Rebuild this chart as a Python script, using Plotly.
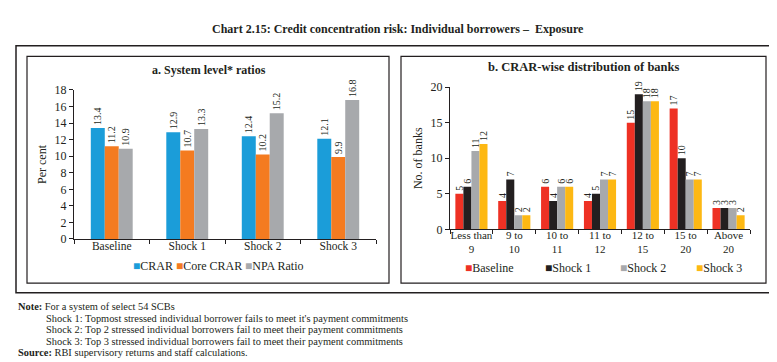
import plotly.graph_objects as go

W, H = 777, 362

# ---- Panel a data ----
categories_a = ["Baseline", "Shock 1", "Shock 2", "Shock 3"]
crar = [13.4, 12.9, 12.4, 12.1]
core_crar = [11.2, 10.7, 10.2, 9.9]
npa_ratio = [10.9, 13.3, 15.2, 16.8]
names_a = ["CRAR", "Core CRAR", "NPA Ratio"]
colors_a = ["#1B9DD9", "#F47B20", "#A7A9AC"]

# ---- Panel b data ----
categories_b = ["Less than<br>9", "9 to<br>10", "10 to<br>11", "11 to<br>12",
                "12 to<br>15", "15 to<br>20", "Above<br>20"]
baseline = [5, 4, 6, 4, 15, 17, 3]
shock1 = [6, 7, 4, 5, 19, 10, 3]
shock2 = [11, 2, 6, 7, 18, 7, 3]
shock3 = [12, 2, 6, 7, 18, 7, 2]
names_b = ["Baseline", "Shock 1", "Shock 2", "Shock 3"]
colors_b = ["#EE3124", "#231F20", "#A7A9AC", "#FDB813"]

FONT = "Liberation Serif"
TXT = "#231F20"


def px(x):
    return x / W


def py(y):
    return 1 - y / H


fig = go.Figure()

# Panel a bars (explicit width/offset so panel a has its own gap)
bw_a = 0.185
for i, (nm, vals, col) in enumerate(zip(names_a, [crar, core_crar, npa_ratio], colors_a)):
    fig.add_trace(go.Bar(
        x=categories_a, y=vals, name=nm, marker=dict(color=col, line=dict(width=0)),
        width=bw_a, offset=-1.5 * bw_a + i * bw_a,
        text=vals, texttemplate="%{y}", textposition="outside", textangle=-90,
        textfont=dict(size=10, color=TXT, family=FONT), constraintext="none",
        cliponaxis=False, xaxis="x", yaxis="y", showlegend=False))

# Panel b bars
for nm, vals, col in zip(names_b, [baseline, shock1, shock2, shock3], colors_b):
    fig.add_trace(go.Bar(
        x=categories_b, y=vals, name=nm, marker=dict(color=col, line=dict(width=0)),
        text=vals, texttemplate="%{y}", textposition="outside", textangle=-90,
        textfont=dict(size=10, color=TXT, family=FONT), constraintext="none",
        cliponaxis=False, xaxis="x2", yaxis="y2", showlegend=False))

axis_common = dict(showline=True, linecolor=TXT, linewidth=1, ticks="outside",
                   ticklen=4, tickcolor=TXT, showgrid=False, zeroline=False)
xfont = dict(family=FONT, size=11.5, color=TXT)
yfont = dict(family=FONT, size=12, color=TXT)

fig.update_layout(
    width=W, height=H, margin=dict(l=0, r=0, t=0, b=0),
    paper_bgcolor="white", plot_bgcolor="white",
    barmode="group", bargap=0.25, bargroupgap=0,
    font=dict(family=FONT, color=TXT),
    xaxis=dict(domain=[px(66), px(368)], anchor="y", tickson="boundaries", tickangle=0,
               tickfont=xfont, ticklabelstandoff=-4, **axis_common),
    yaxis=dict(domain=[py(233), py(78)], anchor="x", range=[0, 18], dtick=2, tickfont=yfont,
               title=dict(text="Per cent", font=dict(family=FONT, size=12, color=TXT), standoff=5),
               **axis_common),
    xaxis2=dict(domain=[px(442), px(742)], anchor="y2", tickson="boundaries", tickangle=0,
                tickfont=dict(family=FONT, size=11, color=TXT), ticklabelstandoff=-5, **axis_common),
    yaxis2=dict(domain=[py(223), py(75)], anchor="x2", range=[0, 20], dtick=5, tickfont=yfont,
                title=dict(text="No. of banks", font=dict(family=FONT, size=12, color=TXT), standoff=5),
                **axis_common),
)

# Frames
shapes = []
for (x0, y0, x1, y1, w) in [(8, 32, 769, 289, 1.5), (19, 43, 381, 279, 1.2), (393, 43, 758, 279, 1.2)]:
    shapes.append(dict(type="rect", xref="paper", yref="paper",
                       x0=px(x0), x1=px(x1), y0=py(y1), y1=py(y0),
                       line=dict(color=TXT, width=w), fillcolor="rgba(0,0,0,0)"))
fig.update_layout(shapes=shapes)

ann = []
ann.append(dict(text="<b>Chart 2.15: Credit concentration risk: Individual borrowers –  Exposure</b>",
                x=px(390), y=py(15), xref="paper", yref="paper", showarrow=False,
                xanchor="center", yanchor="middle", font=dict(family=FONT, size=12, color=TXT)))
ann.append(dict(text="<b>a. System level* ratios</b>", x=px(201), y=py(57), xref="paper", yref="paper",
                showarrow=False, xanchor="center", yanchor="middle",
                font=dict(family=FONT, size=12, color=TXT)))
ann.append(dict(text="<b>b. CRAR-wise distribution of banks</b>", x=px(575), y=py(54), xref="paper",
                yref="paper", showarrow=False, xanchor="center", yanchor="middle",
                font=dict(family=FONT, size=12.5, color=TXT)))

# Legends
leg_a_x = [123, 166, 235]
for nm, col, lx in zip(names_a, colors_a, leg_a_x):
    ann.append(dict(text=f"<span style='color:{col}'>■</span>{nm}", x=px(lx), y=py(261),
                    xref="paper", yref="paper", showarrow=False, xanchor="left", yanchor="middle",
                    font=dict(family=FONT, size=12, color=TXT)))
leg_b_x = [455, 535, 610, 686]
for nm, col, lx in zip(names_b, colors_b, leg_b_x):
    ann.append(dict(text=f"<span style='color:{col}'>■</span>{nm}", x=px(lx), y=py(263),
                    xref="paper", yref="paper", showarrow=False, xanchor="left", yanchor="middle",
                    font=dict(family=FONT, size=12, color=TXT)))

notes = [
    (9, 303.5, "<b>Note:</b> For a system of select 54 SCBs"),
    (37, 315.5, "Shock 1: Topmost stressed individual borrower fails to meet it's payment commitments"),
    (37, 327.5, "Shock 2: Top 2 stressed individual borrowers fail to meet their payment commitments"),
    (37, 339.5, "Shock 3: Top 3 stressed individual borrowers fail to meet their payment commitments"),
    (9, 351.5, "<b>Source:</b> RBI supervisory returns and staff calculations."),
]
for nx, ny, t in notes:
    ann.append(dict(text=t, x=px(nx), y=py(ny), xref="paper", yref="paper", showarrow=False,
                    xanchor="left", yanchor="middle", borderpad=0,
                    font=dict(family=FONT, size=10.4, color=TXT)))

fig.update_layout(annotations=ann)

fig.write_html("out.html")
